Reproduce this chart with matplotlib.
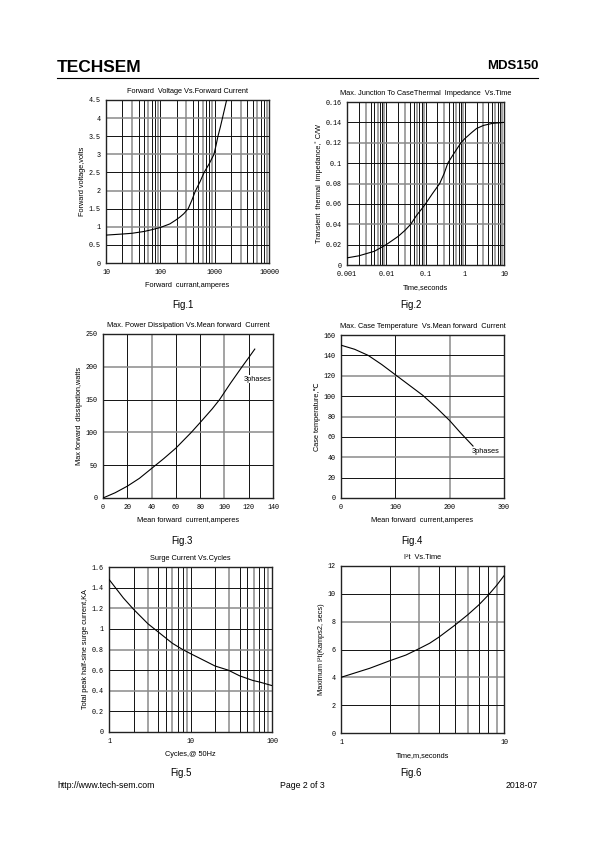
import numpy as np
import matplotlib
matplotlib.use('Agg')
import matplotlib.pyplot as plt
from matplotlib.ticker import NullLocator

W, H = 595, 842

# Fig.1 forward voltage vs forward current
fv_current = [10, 20, 30, 50, 70, 100, 150, 190, 230, 270, 326, 380, 445, 540, 640,
              800, 970, 1060, 1150, 1270, 1390, 1520, 1660]
fv_voltage = [0.77, 0.80, 0.82, 0.87, 0.92, 0.98, 1.08, 1.18, 1.27, 1.36, 1.50, 1.73,
              2.00, 2.25, 2.50, 2.75, 3.00, 3.25, 3.50, 3.75, 4.00, 4.25, 4.50]

# Fig.2 transient thermal impedance vs time
zth_time = [0.001, 0.002, 0.005, 0.01, 0.02, 0.03, 0.042, 0.06, 0.08, 0.1, 0.15, 0.23,
            0.3, 0.37, 0.5, 0.8, 1, 1.5, 2, 3, 5, 10]
zth_value = [0.007, 0.009, 0.0135, 0.020, 0.028, 0.034, 0.040, 0.049, 0.055, 0.060,
             0.070, 0.080, 0.090, 0.100, 0.108, 0.120, 0.124, 0.130, 0.134, 0.137,
             0.139, 0.140]

# Fig.3 power dissipation vs mean forward current
pd_current = [0, 10, 20, 30, 40, 50, 60, 72.7, 80, 90, 96, 105, 114.5, 120, 125]
pd_power = [0, 8, 18, 30, 45, 60, 76, 100, 115, 136, 150, 175, 200, 214, 227]

# Fig.4 case temperature vs mean forward current
tc_current = [0, 25, 50, 75, 100, 125, 150, 175, 200, 220, 243]
tc_temp = [150, 146, 140, 131, 121, 111, 101, 89, 76, 64, 51]

# Fig.5 surge current vs cycles
sc_cycles = [1, 1.5, 2, 3, 3.6, 5, 6, 8, 10, 15, 20, 29, 40, 58, 70, 100]
sc_current = [1.48, 1.30, 1.19, 1.05, 1.00, 0.91, 0.86, 0.80, 0.76, 0.69, 0.64, 0.60,
              0.545, 0.50, 0.485, 0.45]

# Fig.6 I2t vs time
i2t_time = [1, 1.5, 2, 2.5, 3, 3.5, 4, 5, 6, 7, 8, 9, 10]
i2t_value = [4.0, 4.65, 5.2, 5.6, 6.05, 6.45, 6.9, 7.75, 8.5, 9.2, 9.9, 10.6, 11.3]

fig = plt.figure(figsize=(W / 100, H / 100), dpi=100)
fig.patch.set_facecolor('white')

SANS = ['Liberation Sans', 'DejaVu Sans']
MONO = 'Liberation Mono'


def fx(x):
    return x / W


def fy(y):
    return 1 - y / H


def make_axes(l, t, r, b):
    return fig.add_axes([l / W, 1 - b / H, (r - l) / W, (b - t) / H])


def grid_lines(ax, xs, ys):
    for i, x in enumerate(xs):
        c, lw = ('#111111', 0.7) if i % 3 != 1 else ('#8a8a8a', 1.1)
        ax.axvline(x, color=c, lw=lw, zorder=1)
    for i, y in enumerate(ys):
        c, lw = ('#111111', 0.7) if i % 2 == 0 else ('#8a8a8a', 1.1)
        ax.axhline(y, color=c, lw=lw, zorder=1)


def style(ax, xticks, yticks, xfmt, yfmt, title, xlabel, ylabel):
    ax.set_xticks(xticks)
    ax.set_yticks(yticks)
    ax.xaxis.set_minor_locator(NullLocator())
    ax.yaxis.set_minor_locator(NullLocator())
    ax.set_xticklabels([xfmt(v) for v in xticks], family=MONO, fontsize=4.9)
    ax.set_yticklabels([yfmt(v) for v in yticks], family=MONO, fontsize=4.9)
    ax.tick_params(length=0, pad=4)
    for s in ax.spines.values():
        s.set_color('#222222')
        s.set_linewidth(1.0)
    ax.set_title(title, family=SANS, fontsize=5.3, pad=5)
    ax.set_xlabel(xlabel, family=SANS, fontsize=5.3, labelpad=4.5)
    ax.set_ylabel(ylabel, family=SANS, fontsize=5.3, labelpad=1.5)


def log_minor(lo, hi):
    vals = []
    d = lo
    while d < hi:
        for k in range(1, 10):
            v = d * k
            if lo < v < hi:
                vals.append(v)
        d *= 10
    return vals


def num(v):
    return ('%g' % v)


# ---- header / footer ----
fig.text(fx(57), fy(68), 'TECHSEM', family=SANS, fontsize=12.5, fontweight='bold',
         va='center', ha='left')
fig.text(fx(538), fy(66), 'MDS150', family=SANS, fontsize=9.5, fontweight='bold',
         va='center', ha='right')
fig.add_artist(plt.Line2D([fx(57), fx(538)], [fy(78), fy(78)], color='black', lw=0.8))
fig.text(fx(57), fy(785), 'http://www.tech-sem.com', family=SANS, fontsize=6.3, va='center')
fig.text(fx(302), fy(785), 'Page 2 of 3', family=SANS, fontsize=6.3, va='center', ha='center')
fig.text(fx(538), fy(785), '2018-07', family=SANS, fontsize=6.3, va='center', ha='right')

for lbl, x, y in [('Fig.1', 183, 305), ('Fig.2', 411, 305), ('Fig.3', 182, 541),
                  ('Fig.4', 412, 541), ('Fig.5', 181, 773), ('Fig.6', 411, 773)]:
    fig.text(fx(x), fy(y), lbl, family=SANS, fontsize=7, ha='center', va='center')

# ---- Fig.1 ----
ax = make_axes(106, 100, 269, 263)
ax.set_xscale('log')
ax.set_xlim(10, 10000)
ax.set_ylim(0, 4.5)
grid_lines(ax, log_minor(10, 10000), np.arange(0.5, 4.5, 0.5))
ax.plot(fv_current, fv_voltage, color='black', lw=0.8, zorder=3)
style(ax, [10, 100, 1000, 10000], list(np.arange(0, 4.51, 0.5)), num, num,
      'Forward  Voltage Vs.Forward Current', 'Forward  currant,amperes',
      'Forward voltage,volts')

# ---- Fig.2 ----
ax = make_axes(347, 102, 504, 265)
ax.set_xscale('log')
ax.set_xlim(0.001, 10)
ax.set_ylim(0, 0.16)
grid_lines(ax, log_minor(0.001, 10), np.arange(0.02, 0.16, 0.02))
ax.plot(zth_time, zth_value, color='black', lw=0.8, zorder=3)
style(ax, [0.001, 0.01, 0.1, 1, 10], list(np.arange(0, 0.161, 0.02)), num,
      lambda v: '%g' % round(v, 2),
      'Max. Junction To CaseThermal  Impedance  Vs.Time', 'Time,seconds',
      'Transient  thermal  impedance,\u02da C/W')

# ---- Fig.3 ----
ax = make_axes(103, 334, 273, 498)
ax.set_xlim(0, 140)
ax.set_ylim(0, 250)
grid_lines(ax, np.arange(20, 140, 20), np.arange(50, 250, 50))
ax.plot(pd_current, pd_power, color='black', lw=0.8, zorder=3)
ax.text(116, 181, '3phases', family=SANS, fontsize=5.3, ha='left', va='center', zorder=4,
        bbox=dict(facecolor='white', edgecolor='none', pad=0.5))
style(ax, list(range(0, 141, 20)), list(range(0, 251, 50)), num, num,
      'Max. Power Dissipation Vs.Mean forward  Current', 'Mean forward  current,amperes',
      'Max forward  dissipation,watts')

# ---- Fig.4 ----
ax = make_axes(341, 335, 504, 498)
ax.set_xlim(0, 300)
ax.set_ylim(0, 160)
grid_lines(ax, [100, 200], np.arange(20, 160, 20))
ax.plot(tc_current, tc_temp, color='black', lw=0.8, zorder=3)
ax.text(241, 46, '3phases', family=SANS, fontsize=5.3, ha='left', va='center', zorder=4,
        bbox=dict(facecolor='white', edgecolor='none', pad=0.5))
style(ax, [0, 100, 200, 300], list(range(0, 161, 20)), num, num,
      'Max. Case Temperature  Vs.Mean forward  Current', 'Mean forward  current,amperes',
      'Case temperature,\u2103')

# ---- Fig.5 ----
ax = make_axes(109, 567, 272, 732)
ax.set_xscale('log')
ax.set_xlim(1, 100)
ax.set_ylim(0, 1.6)
grid_lines(ax, log_minor(1, 100), np.arange(0.2, 1.6, 0.2))
ax.plot(sc_cycles, sc_current, color='black', lw=0.8, zorder=3)
style(ax, [1, 10, 100], list(np.arange(0, 1.61, 0.2)), num,
      lambda v: '%g' % round(v, 1),
      'Surge Current Vs.Cycles', 'Cycles,@ 50Hz',
      'Total peak half-sine surge current,KA')

# ---- Fig.6 ----
ax = make_axes(341, 566, 504, 733)
ax.set_xscale('log')
ax.set_xlim(1, 10)
ax.set_ylim(0, 12)
grid_lines(ax, log_minor(1, 10), np.arange(2, 12, 2))
ax.plot(i2t_time, i2t_value, color='black', lw=0.8, zorder=3)
style(ax, [1, 10], list(range(0, 13, 2)), num, num,
      'I\u00b2t  Vs.Time', 'Time,m,seconds',
      'Maximum I\u00b2t(Kamps2, secs)')

fig.savefig('out.png', dpi=100)
